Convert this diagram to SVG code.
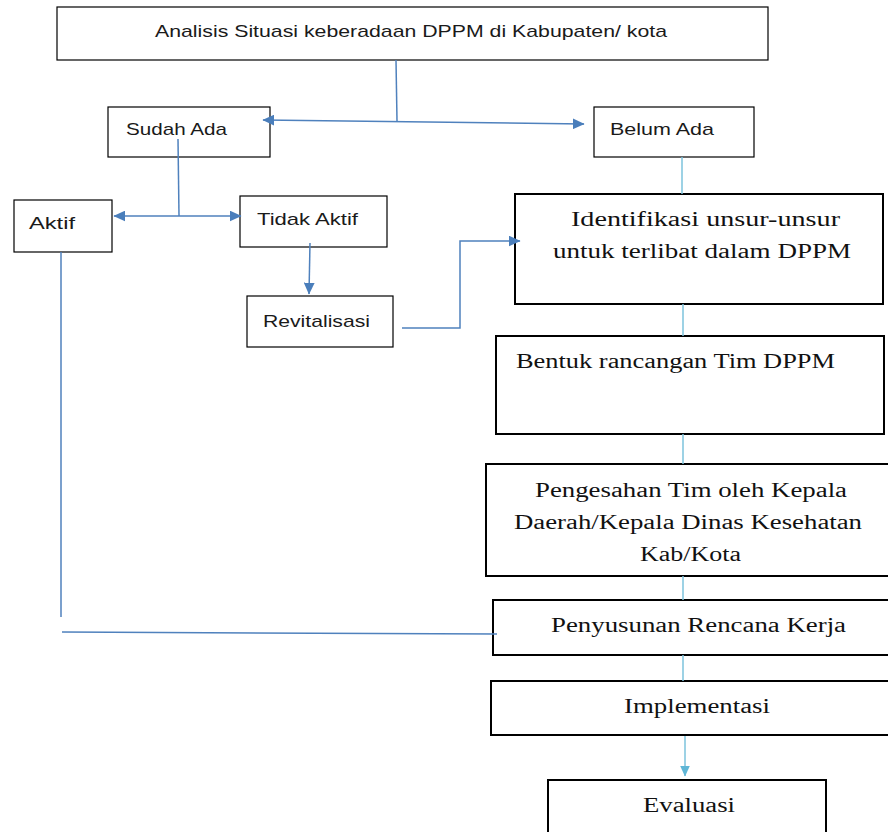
<svg xmlns="http://www.w3.org/2000/svg" width="888" height="832" viewBox="0 0 888 832">
<style>
.b1{fill:#fff;stroke:#000;stroke-width:1.2}
.b2{fill:#fff;stroke:#000;stroke-width:2}
.s{font-family:"Liberation Sans",Arial,sans-serif;font-size:17px;fill:#1a1a1a}
.r{font-family:"Liberation Serif","Times New Roman",serif;font-size:20px;fill:#111}
.c{fill:none;stroke:#4f81bd;stroke-width:1.5}
.cl{fill:none;stroke:#7cc3dd;stroke-width:1.5}
</style>
<defs>
<marker id="a" viewBox="0 0 10 10" refX="9.5" refY="5" markerWidth="12" markerHeight="11" markerUnits="userSpaceOnUse" orient="auto-start-reverse" preserveAspectRatio="none"><path d="M0,0 L10,5 L0,10 z" fill="#4a7ebb"/></marker>
<marker id="al" viewBox="0 0 10 10" refX="9.5" refY="5" markerWidth="11" markerHeight="10" markerUnits="userSpaceOnUse" orient="auto" preserveAspectRatio="none"><path d="M0,0 L10,5 L0,10 z" fill="#5fb6d6"/></marker>
</defs>
<g id="n-analisis"><rect class="b1" x="57" y="7" width="711" height="53"/><text class="s" x="155" y="37" textLength="512" lengthAdjust="spacingAndGlyphs">Analisis Situasi keberadaan DPPM di Kabupaten/ kota</text></g>
<g id="n-sudah"><rect class="b1" x="108" y="107" width="162" height="50"/><text class="s" x="126" y="135" textLength="101" lengthAdjust="spacingAndGlyphs">Sudah Ada</text></g>
<g id="n-belum"><rect class="b1" x="594" y="107" width="160" height="50"/><text class="s" x="610" y="135" textLength="104" lengthAdjust="spacingAndGlyphs">Belum Ada</text></g>
<g id="n-aktif"><rect class="b1" x="14" y="200" width="98" height="52"/><text class="s" x="29" y="229" textLength="46" lengthAdjust="spacingAndGlyphs">Aktif</text></g>
<g id="n-tidak"><rect class="b1" x="240" y="196" width="147" height="51"/><text class="s" x="257" y="225" textLength="101" lengthAdjust="spacingAndGlyphs">Tidak Aktif</text></g>
<g id="n-revital"><rect class="b1" x="247" y="296" width="146" height="51"/><text class="s" x="263" y="327" textLength="107" lengthAdjust="spacingAndGlyphs">Revitalisasi</text></g>
<g id="n-identifikasi"><rect class="b2" x="515" y="194" width="368" height="110"/><text class="r" x="571" y="226" textLength="269" lengthAdjust="spacingAndGlyphs">Identifikasi unsur-unsur</text><text class="r" x="553" y="258" textLength="298" lengthAdjust="spacingAndGlyphs">untuk terlibat  dalam DPPM</text></g>
<g id="n-bentuk"><rect class="b2" x="496" y="336" width="388" height="98"/><text class="r" x="516" y="368" textLength="319" lengthAdjust="spacingAndGlyphs">Bentuk rancangan Tim DPPM</text></g>
<g id="n-pengesahan"><rect class="b2" x="486" y="464" width="404" height="112"/><text class="r" x="535" y="497" textLength="312" lengthAdjust="spacingAndGlyphs">Pengesahan Tim oleh Kepala</text><text class="r" x="514" y="529" textLength="348" lengthAdjust="spacingAndGlyphs">Daerah/Kepala Dinas Kesehatan</text><text class="r" x="640" y="561" textLength="101" lengthAdjust="spacingAndGlyphs">Kab/Kota</text></g>
<g id="n-penyusunan"><rect class="b2" x="493" y="600" width="397" height="55"/><text class="r" x="551" y="632" textLength="295" lengthAdjust="spacingAndGlyphs">Penyusunan Rencana Kerja</text></g>
<g id="n-implementasi"><rect class="b2" x="491" y="681" width="399" height="54"/><text class="r" x="624" y="713" textLength="146" lengthAdjust="spacingAndGlyphs">Implementasi</text></g>
<g id="n-evaluasi"><rect class="b2" x="548" y="780" width="278" height="60"/><text class="r" x="643" y="812" textLength="92" lengthAdjust="spacingAndGlyphs">Evaluasi</text></g>
<g id="connectors">
<line class="c" x1="396" y1="60" x2="397" y2="121"/>
<line class="c" x1="263" y1="120" x2="584" y2="124" marker-start="url(#a)" marker-end="url(#a)"/>
<line class="c" x1="178" y1="139" x2="179" y2="216"/>
<line class="c" x1="114" y1="216" x2="241" y2="216" marker-start="url(#a)" marker-end="url(#a)"/>
<line class="c" x1="310" y1="243" x2="309" y2="294" marker-end="url(#a)"/>
<polyline class="c" points="402,328 460,328 460,241 520,241" marker-end="url(#a)"/>
<line class="c" x1="61" y1="252" x2="61" y2="617"/>
<line class="c" x1="62" y1="632" x2="497" y2="634"/>
<line class="cl" x1="682" y1="157" x2="682" y2="194"/>
<line class="cl" x1="683" y1="304" x2="683" y2="336"/>
<line class="cl" x1="683" y1="434" x2="683" y2="464"/>
<line class="cl" x1="683" y1="576" x2="683" y2="600"/>
<line class="cl" x1="683" y1="655" x2="683" y2="681"/>
<line class="cl" x1="685" y1="736" x2="685" y2="776" marker-end="url(#al)"/>
</g>
</svg>
